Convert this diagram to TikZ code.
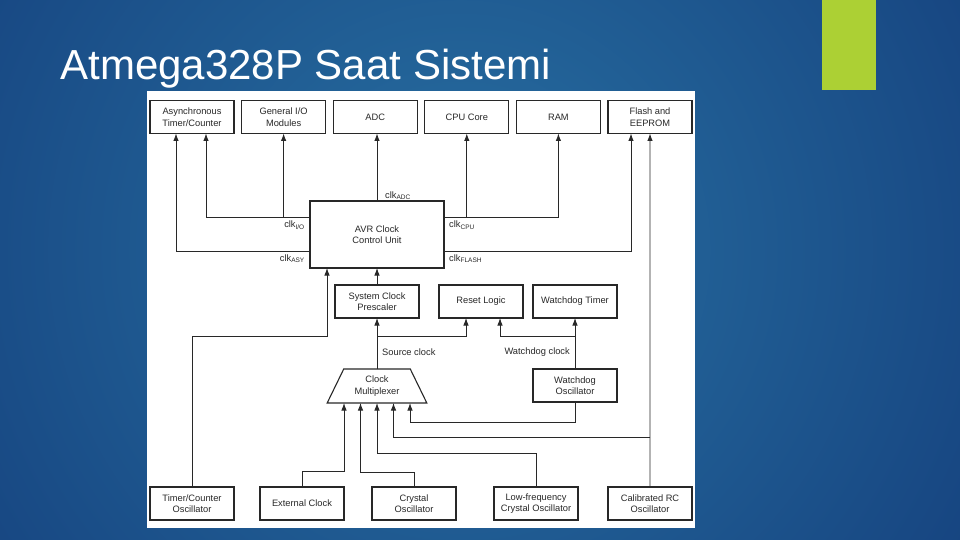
\documentclass[tikz,border=0pt]{standalone}
\usepackage{fontspec}
\setmainfont{Liberation Sans}
\usetikzlibrary{shapes.geometric, arrows.meta, positioning, calc}

\definecolor{bgin}{RGB}{40,112,162}
\definecolor{bgout}{RGB}{10,38,105}
\definecolor{barc}{RGB}{172,208,52}
\definecolor{linec}{RGB}{40,40,40}
\definecolor{txtc}{RGB}{40,40,40}

\begin{document}
\begin{tikzpicture}[
                x=1pt, y=-1pt,
                node distance=7.6pt,
                every node/.style={font=\fontsize{9.3}{11.5}\selectfont, text=txtc},
                unit/.style={rectangle, minimum width=84pt, minimum height=33pt, draw=linec, line width=1.1pt, fill=white, align=center, inner sep=1pt, outer sep=0pt},
                mux/.style={trapezium, trapezium angle=61, trapezium stretches=true, minimum width=100pt, minimum height=34pt, draw=linec, line width=1.1pt, fill=white, align=center, inner sep=0pt, outer sep=0pt},
                lbl/.style={inner sep=1pt},
                arrow/.style={draw=linec, line width=0.9pt, ->, >={Latex[length=7.5pt,width=5.5pt]}}
            ]

                % Slide background
                \useasboundingbox (0,0) rectangle (960,540);
                \begin{scope}
                \clip (0,0) rectangle (960,540);
                \shade[inner color=bgin, outer color=bgout] (460,250) circle (1000pt);
                \end{scope}
                \fill[barc] (822,0) rectangle (876,90);
                \fill[white] (147,91) rectangle (695,528);
                \node (title) [anchor=base west, text=white, font=\fontsize{42}{48}\selectfont] at (57,80) {Atmega328P Saat Sistemi};

                % Clock domains
                \node (async) [unit] at (192,117) {Asynchronous\\Timer/Counter};
                \node (gio) [unit, right=of async] {General I/O\\Modules};
                \node (adc) [unit, right=of gio] {ADC};
                \node (cpu) [unit, right=of adc] {CPU Core};
                \node (ram) [unit, right=of cpu] {RAM};
                \node (flash) [unit, right=of ram] {Flash and\\EEPROM};

                % Control
                \node (avr) [unit, minimum width=134pt, minimum height=67pt] at (377,234.5) {AVR Clock\\Control Unit};
                \node (pre) [unit, below=17pt of avr] {System Clock\\Prescaler};
                \node (reset) [unit, right=20pt of pre] {Reset Logic};
                \node (wdt) [unit, right=10pt of reset] {Watchdog Timer};
                \node (wdosc) [unit, below=51pt of wdt] {Watchdog\\Oscillator};
                \node (mux) [mux, below=51pt of pre] {Clock\\Multiplexer};

                % Oscillators
                \node (tcosc) [unit] at (192,503.5) {Timer/Counter\\Oscillator};
                \node (ext) [unit, right=26pt of tcosc] {External Clock};
                \node (xtal) [unit, right=28pt of ext] {Crystal\\Oscillator};
                \node (lfxtal) [unit, right=38pt of xtal] {Low-frequency\\Crystal Oscillator};
                \node (rcosc) [unit, right=30pt of lfxtal] {Calibrated RC\\Oscillator};

                % Taps
                \coordinate (avrio) at ($(avr.north west)!0.25!(avr.south west)$);
                \coordinate (avrasy) at ($(avr.north west)!0.75!(avr.south west)$);
                \coordinate (avrcpu) at ($(avr.north east)!0.25!(avr.south east)$);
                \coordinate (avrflash) at ($(avr.north east)!0.75!(avr.south east)$);
                \coordinate (mi1) at ([xshift=-33pt]mux.south);
                \coordinate (mi2) at ([xshift=-16.5pt]mux.south);
                \coordinate (mi3) at (mux.south);
                \coordinate (mi4) at ([xshift=16.5pt]mux.south);
                \coordinate (mi5) at ([xshift=33pt]mux.south);

                % Clock outputs
                \draw [arrow] (avrio) -| ([xshift=14pt]async.south);
                \draw [arrow] (avrio -| gio.south) -- (gio.south);
                \draw [arrow] (avrasy) -| ([xshift=-16pt]async.south);
                \draw [arrow] (avr.north) -- (avr.north |- adc.south);
                \draw [arrow] (avrcpu) -| (ram.south);
                \draw [arrow] (avrcpu -| cpu.south) -- (cpu.south);
                \draw [arrow] (avrflash) -| ([xshift=-19pt]flash.south);

                \node (lbladc) [lbl, anchor=south west] at ([xshift=7pt]avr.north) {clk\textsubscript{ADC}};
                \node (lblio) [lbl, anchor=north east] at ([xshift=-4pt,yshift=-2pt]avrio) {clk\textsubscript{I/O}};
                \node (lblasy) [lbl, anchor=north east] at ([xshift=-4pt,yshift=-2pt]avrasy) {clk\textsubscript{ASY}};
                \node (lblcpu) [lbl, anchor=north west] at ([xshift=4pt,yshift=-2pt]avrcpu) {clk\textsubscript{CPU}};
                \node (lblflash) [lbl, anchor=north west] at ([xshift=4pt,yshift=-2pt]avrflash) {clk\textsubscript{FLASH}};

                % Source and watchdog clocks
                \draw [arrow] (pre.north) -- (avr.south);
                \draw [arrow] (tcosc.north) -- ++(0,-151) -| ([xshift=-50pt]avr.south);
                \draw [arrow] (mux.north) -- (pre.south);
                \draw [arrow] ([yshift=-18pt]pre.south) -| ([xshift=-15pt]reset.south);
                \draw [arrow] (wdosc.north) -- (wdt.south);
                \draw [arrow] ([yshift=-18pt]wdt.south) -| ([xshift=19pt]reset.south);

                \node (lblsrc) [lbl, anchor=west] at ([xshift=4pt,yshift=-34pt]pre.south) {Source clock};
                \node (lblwd) [lbl, anchor=east] at ([xshift=-4pt,yshift=-34pt]wdt.south) {Watchdog clock};

                % Multiplexer inputs
                \draw [arrow] (ext.north) -- ++(0,-16) -| (mi1);
                \draw [arrow] (xtal.north) -- ++(0,-15) -| (mi2);
                \draw [arrow] (lfxtal.north) -- ++(0,-34) -| (mi3);
                \draw [arrow] (rcosc.north) -- (flash.south);
                \draw [arrow] ([yshift=50pt]rcosc.north) -| (mi4);
                \draw [arrow] (wdosc.south) -- ++(0,20) -| (mi5);

            \end{tikzpicture}
\end{document}
